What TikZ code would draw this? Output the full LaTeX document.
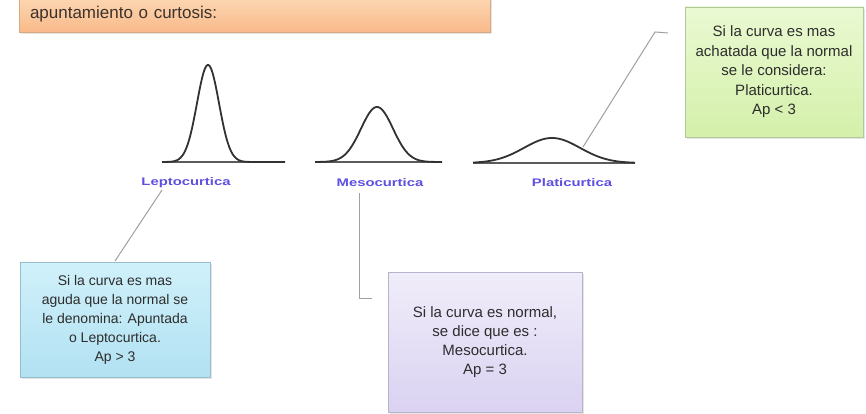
\documentclass[tikz,border=0pt]{standalone}
\usepackage{fontspec}
\setmainfont{Liberation Sans}
\newfontfamily\lblfont[FakeStretch=1.35]{Liberation Sans}
\usetikzlibrary{shadows}
\definecolor{txt}{RGB}{45,45,45}
\definecolor{introtxt}{RGB}{60,50,45}
\definecolor{lbl}{RGB}{95,80,225}
\definecolor{conn}{RGB}{160,160,160}
\definecolor{curve}{RGB}{50,50,50}
\definecolor{obord}{RGB}{215,170,130}
\definecolor{otop}{RGB}{252,216,180}
\definecolor{obot}{RGB}{249,186,138}
\definecolor{gbord}{RGB}{175,200,160}
\definecolor{gtop}{RGB}{234,249,210}
\definecolor{gbot}{RGB}{212,240,170}
\definecolor{bbord}{RGB}{150,190,205}
\definecolor{btop}{RGB}{208,241,250}
\definecolor{bbot}{RGB}{178,225,242}
\definecolor{pbord}{RGB}{185,178,205}
\definecolor{ptop}{RGB}{240,237,250}
\definecolor{pbot}{RGB}{218,210,241}
\begin{document}
\begin{tikzpicture}[x=1pt,y=-1pt,
  box/.style={rectangle, draw=#1, line width=0.8pt, text=txt, align=center,
    font=\fontsize{14}{19}\selectfont, inner sep=0pt,
    drop shadow={opacity=0.2, shadow xshift=1.5pt, shadow yshift=-2pt}},
  lbltext/.style={text=lbl, font=\lblfont\bfseries\fontsize{11}{13}\selectfont, inner sep=1pt},
  connector/.style={draw=conn, line width=1pt},
  bell/.style={draw=curve, line width=1.8pt, line join=round},
  baseln/.style={draw=curve!80, line width=1.3pt}]
\fill[white] (0,0) rectangle (866,414);
\useasboundingbox (0,0) rectangle (866,414);

% top orange box (cut at the top)
\node[box=obord, top color=otop, bottom color=obot,
  minimum width=471pt, minimum height=36pt, text width=449pt, align=left,
  font=\fontsize{17}{20}\selectfont, text=introtxt] (intro) at (254.5,14) {\raisebox{-3pt}{apuntamiento o curtosis:}};

% curves
\draw[baseln] (162,162) -- (285,162);
\draw[bell] plot[domain=162:285, samples=160, smooth] (\x, {162 - 97*exp(-((\x-208)*(\x-208))/(2*11*11))});
\draw[baseln] (315,162) -- (442,162);
\draw[bell] plot[domain=315:442, samples=160, smooth] (\x, {162 - 55*exp(-((\x-377)*(\x-377))/(2*16*16))});
\draw[baseln] (473,163) -- (635,163);
\draw[bell] plot[domain=473:635, samples=160, smooth] (\x, {163 - 25*exp(-((\x-552)*(\x-552))/(2*28*28))});

% labels
\node[lbltext] (lepto) at (186,183) {Leptocurtica};
\node[lbltext] (meso) at (380,183) {Mesocurtica};
\node[lbltext] (plati) at (572,183) {Platicurtica};

% boxes
\node[box=gbord, top color=gtop, bottom color=gbot,
  minimum width=178pt, minimum height=130pt, font=\fontsize{15}{19.5}\selectfont] (gbox) at (774,72)
  {Si la curva es mas\\achatada que la normal\\se le considera:\\Platicurtica.\\Ap < 3};
\node[box=bbord, top color=btop, bottom color=bbot,
  minimum width=190pt, minimum height=115pt] (bbox) at (115,319.5)
  {Si la curva es mas\\aguda que la normal se\\le denomina: Apuntada\\o Leptocurtica.\\Ap > 3};
\node[box=pbord, top color=ptop, bottom color=pbot,
  minimum width=194pt, minimum height=140pt, font=\fontsize{15}{19}\selectfont] (pbox) at (485,342)
  {Si la curva es normal,\\se dice que es :\\Mesocurtica.\\Ap = 3};

% connectors
\coordinate (g1) at (668,33);
\coordinate (g2) at (655,32);
\coordinate (g3) at (583,147);
\draw[connector] (g1) -- (g2) -- (g3);
\coordinate (l1) at (162,190);
\coordinate (l2) at (115,261);
\draw[connector] (l1) -- (l2);
\coordinate (m1) at (359,193);
\coordinate (m2) at (359,298);
\coordinate (m3) at (372,298);
\draw[connector] (m1) -- (m2) -- (m3);
\end{tikzpicture}
\end{document}
